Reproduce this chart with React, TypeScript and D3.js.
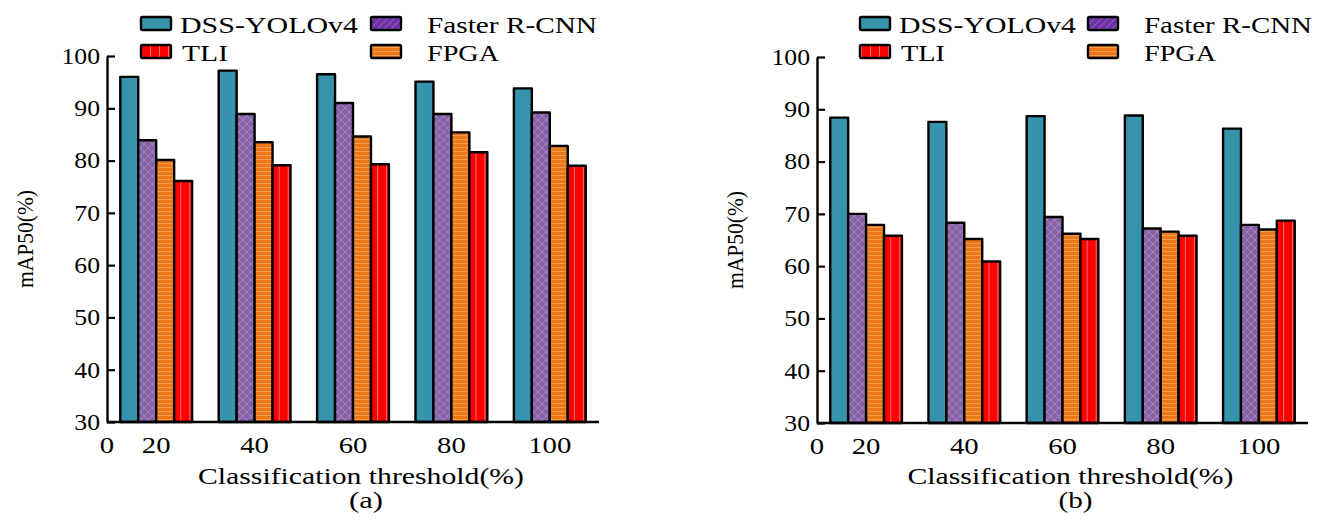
import React, { useRef, useEffect } from 'react';
import * as d3 from 'd3';

// classification thresholds (x categories)
const thresholds = ['20', '40', '60', '80', '100'];
const seriesNames = ['DSS-YOLOv4', 'Faster R-CNN', 'FPGA', 'TLI'];
const yTicks = [30, 40, 50, 60, 70, 80, 90, 100];

// panel (a)
const dssA = [96.0, 97.2, 96.5, 95.1, 93.8];
const fasterA = [83.9, 88.9, 91.0, 88.9, 89.2];
const fpgaA = [80.1, 83.5, 84.6, 85.4, 82.8];
const tliA = [76.1, 79.1, 79.3, 81.6, 79.0];

// panel (b)
const dssB = [88.4, 87.6, 88.7, 88.8, 86.3];
const fasterB = [70.0, 68.3, 69.4, 67.2, 67.9];
const fpgaB = [67.9, 65.2, 66.2, 66.6, 67.0];
const tliB = [65.8, 60.9, 65.2, 65.8, 68.7];

const FONT = '"Liberation Serif", "Times New Roman", serif';

const panels = [
  {
    id: 'a', caption: '(a)', series: [dssA, fasterA, fpgaA, tliA],
    x0: 107, x1: 599, yTop: 56, yBot: 422, yTitleX: 30,
    leg: { s1: 141, t1: 180, w1: 178, s2: 371, t2: 427, w2: 170, tli: 46, fpga: 72 },
  },
  {
    id: 'b', caption: '(b)', series: [dssB, fasterB, fpgaB, tliB],
    x0: 817, x1: 1308, yTop: 57, yBot: 423, yTitleX: 740,
    leg: { s1: 860, t1: 899, w1: 177, s2: 1088, t2: 1144, w2: 168, tli: 44, fpga: 72 },
  },
];

const barFills = ['url(#pTeal)', 'url(#pPurple)', 'url(#pOrange)', 'url(#pRed)'];
const legFills = ['url(#pTeal)', 'url(#pPurpleLeg)', 'url(#pOrange)', 'url(#pRed)'];

const App = () => {
  const svgRef = useRef(null);

  useEffect(() => {
    const svg = d3.select(svgRef.current);
    svg.selectAll('*').remove();

    // patterns
    const defs = svg.append('defs');
    const teal = defs.append('pattern').attr('id', 'pTeal').attr('patternUnits', 'userSpaceOnUse')
      .attr('width', 4).attr('height', 4);
    teal.append('rect').attr('width', 4).attr('height', 4).attr('fill', '#3a97b0');
    teal.append('path').attr('d', 'M0,4 L4,0 M0,0 L4,4').attr('stroke', '#3089a2').attr('stroke-width', 0.6);

    const purple = defs.append('pattern').attr('id', 'pPurple').attr('patternUnits', 'userSpaceOnUse')
      .attr('width', 8).attr('height', 8);
    purple.append('rect').attr('width', 8).attr('height', 8).attr('fill', '#8661a6');
    purple.append('path').attr('d', 'M0,8 L8,0 M0,0 L8,8').attr('stroke', '#a78bc3').attr('stroke-width', 0.9);

    const purpleLeg = defs.append('pattern').attr('id', 'pPurpleLeg').attr('patternUnits', 'userSpaceOnUse')
      .attr('width', 7).attr('height', 7);
    purpleLeg.append('rect').attr('width', 7).attr('height', 7).attr('fill', '#7032a6');
    purpleLeg.append('path').attr('d', 'M0,7 L7,0').attr('stroke', '#9468c0').attr('stroke-width', 1);

    const orange = defs.append('pattern').attr('id', 'pOrange').attr('patternUnits', 'userSpaceOnUse')
      .attr('width', 4).attr('height', 4);
    orange.append('rect').attr('width', 4).attr('height', 4).attr('fill', '#ec7818');
    orange.append('rect').attr('y', 3).attr('width', 4).attr('height', 0.8).attr('fill', '#f5a65e');

    const red = defs.append('pattern').attr('id', 'pRed').attr('patternUnits', 'userSpaceOnUse')
      .attr('width', 9).attr('height', 9);
    red.append('rect').attr('width', 9).attr('height', 9).attr('fill', '#ff0000');
    red.append('rect').attr('x', 6).attr('width', 1).attr('height', 9).attr('fill', '#ff7070');

    panels.forEach((p) => {
      const g = svg.append('g');

      const y = d3.scaleLinear().domain([30, 100]).range([p.yBot, p.yTop]);
      const x = d3.scaleBand().domain(thresholds).range([p.x0, p.x1])
        .paddingInner(0.27).paddingOuter(0.135);
      const xs = d3.scaleBand().domain(seriesNames).range([0, x.bandwidth()]);

      // bars
      const rows = thresholds.map((t, i) => ({ t, vals: p.series.map((s) => s[i]) }));
      const grp = g.selectAll('.grp').data(rows).enter().append('g')
        .attr('transform', (d) => `translate(${x(d.t)},0)`);
      grp.selectAll('rect')
        .data((d) => d.vals.map((v, k) => ({ v, k })))
        .enter().append('rect')
        .attr('x', (d) => xs(seriesNames[d.k]))
        .attr('y', (d) => y(d.v))
        .attr('width', xs.bandwidth())
        .attr('height', (d) => y(30) - y(d.v))
        .attr('fill', (d) => barFills[d.k])
        .attr('stroke', '#000')
        .attr('stroke-width', 2.4)
        .attr('stroke-linejoin', 'round');

      // y axis
      const ya = g.append('g').attr('transform', `translate(${p.x0},0)`)
        .call(d3.axisLeft(y).tickValues(yTicks).tickSizeInner(-8).tickSizeOuter(0).tickPadding(7));
      ya.select('.domain').attr('stroke', '#000').attr('stroke-width', 2.4);
      ya.selectAll('.tick line').attr('stroke', '#000').attr('stroke-width', 2.2);
      ya.selectAll('.tick text')
        .attr('font-family', FONT).attr('font-size', 23).attr('fill', '#000')
        .attr('x', -7 / 1.12).attr('transform', 'scale(1.12,1)');

      // x baseline
      g.append('line')
        .attr('x1', p.x0).attr('x2', p.x1).attr('y1', y(30)).attr('y2', y(30))
        .attr('stroke', '#000').attr('stroke-width', 2.4);

      // x labels
      const xa = g.append('g').attr('transform', `translate(0,${y(30)})`)
        .call(d3.axisBottom(x).tickSize(0).tickPadding(15));
      xa.select('.domain').remove();
      xa.selectAll('.tick text')
        .attr('font-family', FONT).attr('font-size', 23).attr('fill', '#000')
        .attr('transform', 'scale(1.25,1)')
        .attr('dy', '0.71em');
      xa.selectAll('.tick').each(function () {
        const tx = d3.select(this);
        const m = /translate\(([-\d.]+)/.exec(tx.attr('transform'));
        const cx = m ? +m[1] : 0;
        tx.attr('transform', `translate(${cx},0)`);
      });
      g.append('text')
        .attr('transform', `translate(${p.x0},${y(30) + 15}) scale(1.25,1)`)
        .attr('dy', '0.71em').attr('text-anchor', 'middle')
        .attr('font-family', FONT).attr('font-size', 23).text('0');

      // titles
      const xMid = (p.x0 + p.x1) / 2 + 8;
      g.append('text').attr('x', xMid).attr('y', 484).attr('text-anchor', 'middle')
        .attr('font-family', FONT).attr('font-size', 24)
        .attr('textLength', 326).attr('lengthAdjust', 'spacingAndGlyphs')
        .text('Classification threshold(%)');
      g.append('text').attr('x', xMid + 5).attr('y', 508).attr('text-anchor', 'middle')
        .attr('font-family', FONT).attr('font-size', 24)
        .attr('textLength', 34).attr('lengthAdjust', 'spacingAndGlyphs')
        .text(p.caption);
      g.append('text')
        .attr('transform', `translate(${p.yTitleX + 3},${(p.yTop + p.yBot) / 2}) rotate(-90)`)
        .attr('text-anchor', 'middle')
        .attr('font-family', FONT).attr('font-size', 23)
        .attr('textLength', 98).attr('lengthAdjust', 'spacingAndGlyphs')
        .text('mAP50(%)');

      // legend
      const L = p.leg;
      const items = [
        { name: 'DSS-YOLOv4', k: 0, sx: L.s1, tx: L.t1, w: L.w1, row: 0 },
        { name: 'Faster R-CNN', k: 1, sx: L.s2, tx: L.t2, w: L.w2, row: 0 },
        { name: 'TLI', k: 3, sx: L.s1, tx: L.t1 + 2, w: L.tli, row: 1 },
        { name: 'FPGA', k: 2, sx: L.s2, tx: L.t2, w: L.fpga, row: 1 },
      ];
      items.forEach((it) => {
        const top = it.row === 0 ? 17 : 45;
        g.append('rect').attr('x', it.sx).attr('y', top).attr('width', 30).attr('height', 13)
          .attr('rx', 1.5)
          .attr('fill', legFills[it.k]).attr('stroke', '#000').attr('stroke-width', 2.4);
        g.append('text').attr('x', it.tx).attr('y', top + 16)
          .attr('font-family', FONT).attr('font-size', 23)
          .attr('textLength', it.w).attr('lengthAdjust', 'spacingAndGlyphs')
          .text(it.name);
      });
    });
  }, []);

  return (
    <svg
      ref={svgRef}
      width={1328}
      height={520}
      style={{ position: 'absolute', left: 0, top: 0, background: '#fff' }}
    />
  );
};

export default App;
